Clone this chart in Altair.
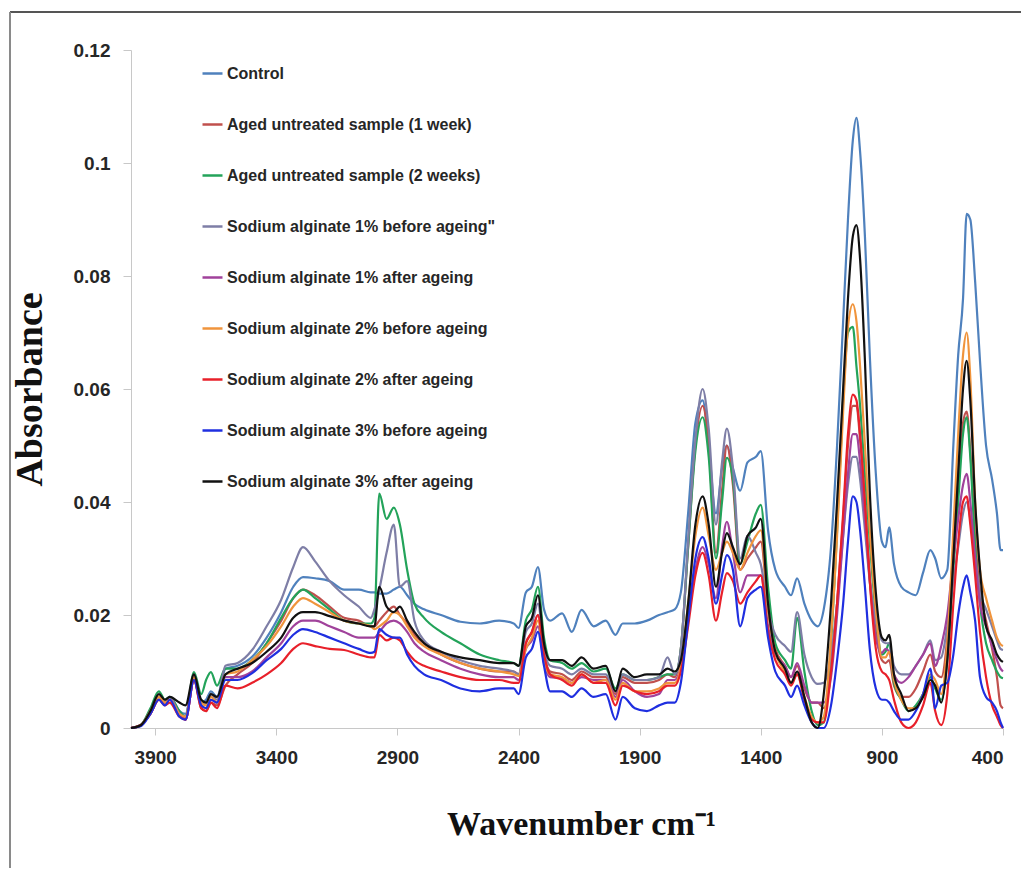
import altair as alt
import pandas as pd

# ---------------- data ----------------
WAVENUMBER = [
    4000, 3960, 3920, 3885, 3860, 3840, 3800, 3775, 3740, 3710, 3690, 3670, 3645, 3610,
    3560, 3500, 3440, 3380, 3330, 3290, 3240, 3180, 3120, 3060, 3010,
    2995, 2975, 2945, 2915, 2890, 2860, 2830, 2790, 2720, 2640, 2560, 2480, 2420, 2400,
    2370, 2345, 2320, 2295, 2270, 2220, 2180, 2140, 2090, 2040, 2000, 1970, 1920, 1870, 1820, 1785, 1755,
    1730, 1700, 1670, 1640, 1615, 1585, 1560, 1540, 1515, 1485, 1455, 1420, 1400, 1370, 1340, 1300, 1275, 1250, 1220, 1190, 1165,
    1140, 1110, 1085, 1060, 1040, 1020, 1005, 990, 970, 950, 925, 900, 885, 870, 850, 820, 790, 760, 730, 700,
    680, 655, 630, 605, 585, 565, 550, 535, 515, 495, 470, 445, 425, 410, 400,
]

control = [
    0, 0.0005, 0.003, 0.0055, 0.0045, 0.0055, 0.003, 0.0025, 0.009, 0.0045, 0.005, 0.0065, 0.0055, 0.0105,
    0.011, 0.0126, 0.016, 0.0205, 0.025, 0.0267, 0.0265, 0.026, 0.0245, 0.0245, 0.024,
    0.024, 0.0238, 0.0238, 0.0245, 0.025, 0.0235, 0.022, 0.021, 0.020, 0.0188, 0.0185, 0.019, 0.0185, 0.0177,
    0.024, 0.025, 0.0285, 0.021, 0.019, 0.0203, 0.017, 0.0209, 0.018, 0.019, 0.0165, 0.0185, 0.0185, 0.019, 0.020, 0.0205, 0.021,
    0.024, 0.038, 0.054, 0.058, 0.050, 0.038, 0.046, 0.050, 0.046, 0.042, 0.047, 0.048, 0.049, 0.035, 0.028, 0.025, 0.0235, 0.0265, 0.022, 0.019, 0.018,
    0.021, 0.032, 0.050, 0.072, 0.090, 0.104, 0.108, 0.102, 0.087, 0.066, 0.045, 0.033, 0.032, 0.0355, 0.029, 0.025, 0.024, 0.0235, 0.0275, 0.0315,
    0.030, 0.0265, 0.028, 0.050, 0.066, 0.076, 0.091, 0.090, 0.079, 0.065, 0.050, 0.044, 0.038, 0.0315, 0.0315,
]

aged_1_week = [
    0, 0.0005, 0.0025, 0.005, 0.0045, 0.005, 0.0025, 0.0015, 0.0085, 0.0035, 0.003, 0.0045, 0.004, 0.0075,
    0.0095, 0.0115, 0.015, 0.019, 0.023, 0.0245, 0.0235, 0.0215, 0.0195, 0.019, 0.018,
    0.018, 0.019, 0.0205, 0.0215, 0.020, 0.0185, 0.0165, 0.015, 0.013, 0.0115, 0.0105, 0.010, 0.010, 0.0095,
    0.015, 0.017, 0.020, 0.013, 0.010, 0.0095, 0.0085, 0.010, 0.009, 0.009, 0.006, 0.009, 0.008, 0.008, 0.0085, 0.0095, 0.009,
    0.014, 0.032, 0.050, 0.057, 0.050, 0.031, 0.042, 0.050, 0.043, 0.028, 0.030, 0.032, 0.033, 0.021, 0.014, 0.011, 0.009, 0.011, 0.007, 0.0045, 0.0045,
    0.0035, 0.010, 0.022, 0.037, 0.050, 0.057, 0.057, 0.051, 0.040, 0.027, 0.017, 0.012, 0.0115, 0.012, 0.0075, 0.0055, 0.0055, 0.007, 0.010, 0.013,
    0.010, 0.009, 0.016, 0.032, 0.045, 0.054, 0.056, 0.049, 0.034, 0.024, 0.019, 0.014, 0.009, 0.004, 0.0035,
]

aged_2_weeks = [
    0, 0.0005, 0.0035, 0.0065, 0.005, 0.0055, 0.003, 0.002, 0.0099, 0.006, 0.0085, 0.0099, 0.0075, 0.0105,
    0.0105, 0.012, 0.015, 0.0195, 0.023, 0.0245, 0.023, 0.021, 0.019, 0.0185, 0.0185,
    0.0195, 0.0415, 0.037, 0.039, 0.036, 0.028, 0.022, 0.0195, 0.017, 0.015, 0.013, 0.012, 0.0115, 0.011,
    0.019, 0.021, 0.025, 0.016, 0.012, 0.0115, 0.0105, 0.0115, 0.010, 0.0105, 0.007, 0.0095, 0.0085, 0.0085, 0.009, 0.0095, 0.0095,
    0.014, 0.032, 0.049, 0.055, 0.048, 0.030, 0.040, 0.0478, 0.044, 0.029, 0.033, 0.038, 0.0395, 0.025, 0.015, 0.012, 0.0105, 0.0195, 0.010, 0.003, 0.0005,
    0.001, 0.015, 0.035, 0.058, 0.070, 0.071, 0.064, 0.057, 0.045, 0.033, 0.020, 0.013, 0.0135, 0.015, 0.008, 0.005, 0.003, 0.004, 0.006, 0.009,
    0.007, 0.005, 0.012, 0.028, 0.040, 0.052, 0.055, 0.048, 0.032, 0.022, 0.015, 0.012, 0.010, 0.009, 0.0088,
]

sa1_before = [
    0, 0.0005, 0.003, 0.0055, 0.0045, 0.0055, 0.0025, 0.002, 0.009, 0.0045, 0.0045, 0.006, 0.005, 0.011,
    0.0115, 0.0138, 0.018, 0.0227, 0.0285, 0.032, 0.0295, 0.026, 0.0235, 0.0215, 0.0195,
    0.021, 0.0245, 0.031, 0.036, 0.025, 0.026, 0.019, 0.0155, 0.0135, 0.012, 0.011, 0.0105, 0.010, 0.0095,
    0.017, 0.0185, 0.022, 0.014, 0.011, 0.0105, 0.0095, 0.0105, 0.0095, 0.0095, 0.0065, 0.0095, 0.0085, 0.0085, 0.009, 0.0125, 0.0095,
    0.014, 0.033, 0.051, 0.060, 0.053, 0.036, 0.047, 0.053, 0.046, 0.030, 0.034, 0.031, 0.029, 0.021, 0.0165, 0.0145, 0.0135, 0.0205, 0.013, 0.009, 0.0078,
    0.008, 0.013, 0.022, 0.034, 0.043, 0.048, 0.048, 0.044, 0.035, 0.026, 0.019, 0.0155, 0.015, 0.015, 0.011, 0.0095, 0.0095, 0.011, 0.013, 0.0155,
    0.012, 0.0125, 0.018, 0.026, 0.032, 0.038, 0.040, 0.037, 0.030, 0.024, 0.021, 0.018, 0.0155, 0.014, 0.0138,
]

sa1_after = [
    0, 0.0005, 0.0025, 0.005, 0.0045, 0.005, 0.0025, 0.0015, 0.0085, 0.004, 0.0035, 0.005, 0.0045, 0.009,
    0.009, 0.010, 0.0125, 0.015, 0.018, 0.019, 0.019, 0.018, 0.017, 0.016, 0.016,
    0.016, 0.017, 0.0185, 0.019, 0.0185, 0.017, 0.015, 0.0135, 0.012, 0.0105, 0.0095, 0.009, 0.009, 0.0085,
    0.014, 0.0155, 0.018, 0.0115, 0.009, 0.0088, 0.008, 0.009, 0.0085, 0.0085, 0.0055, 0.0085, 0.0065, 0.0055, 0.006, 0.0085, 0.0085,
    0.011, 0.020, 0.028, 0.032, 0.029, 0.023, 0.032, 0.0365, 0.031, 0.024, 0.027, 0.027, 0.027, 0.018, 0.013, 0.011, 0.009, 0.0115, 0.0075, 0.0045, 0.0045,
    0.0045, 0.009, 0.020, 0.034, 0.045, 0.052, 0.052, 0.047, 0.037, 0.026, 0.016, 0.0133, 0.014, 0.0135, 0.0095, 0.008, 0.009, 0.011, 0.013, 0.015,
    0.011, 0.0145, 0.020, 0.030, 0.037, 0.043, 0.045, 0.040, 0.030, 0.022, 0.018, 0.0145, 0.012, 0.0105, 0.010,
]

sa2_before = [
    0, 0.0005, 0.003, 0.0055, 0.0045, 0.005, 0.0025, 0.002, 0.009, 0.0045, 0.004, 0.0055, 0.0045, 0.0095,
    0.010, 0.012, 0.0145, 0.018, 0.0215, 0.023, 0.022, 0.0205, 0.019, 0.0185, 0.018,
    0.0175, 0.018, 0.019, 0.0205, 0.020, 0.018, 0.016, 0.0145, 0.013, 0.0115, 0.0105, 0.010, 0.0095, 0.0092,
    0.014, 0.016, 0.019, 0.012, 0.0095, 0.009, 0.008, 0.0095, 0.008, 0.0085, 0.005, 0.008, 0.0065, 0.0065, 0.007, 0.008, 0.008,
    0.011, 0.022, 0.034, 0.039, 0.034, 0.028, 0.031, 0.033, 0.031, 0.028, 0.031, 0.034, 0.035, 0.021, 0.0135, 0.010, 0.008, 0.0095, 0.0055, 0.002, 0.001,
    0.002, 0.016, 0.034, 0.056, 0.071, 0.075, 0.072, 0.064, 0.050, 0.035, 0.021, 0.0125, 0.0125, 0.0135, 0.0085, 0.005, 0.0035, 0.0035, 0.006, 0.0095,
    0.0085, 0.006, 0.015, 0.035, 0.052, 0.066, 0.070, 0.062, 0.040, 0.028, 0.023, 0.019, 0.016, 0.0148, 0.0145,
]

sa2_after = [
    0, 0.0005, 0.0025, 0.005, 0.004, 0.0045, 0.002, 0.0015, 0.0085, 0.0035, 0.003, 0.0045, 0.0035, 0.0075,
    0.007, 0.008, 0.0095, 0.0115, 0.014, 0.015, 0.0145, 0.014, 0.0138, 0.013, 0.0125,
    0.0125, 0.0165, 0.0155, 0.016, 0.0155, 0.0135, 0.012, 0.011, 0.010, 0.009, 0.0085, 0.0085, 0.008, 0.008,
    0.015, 0.017, 0.020, 0.013, 0.0095, 0.0085, 0.0075, 0.0095, 0.008, 0.008, 0.004, 0.0075, 0.0065, 0.006, 0.0065, 0.0075, 0.0075,
    0.010, 0.018, 0.027, 0.031, 0.027, 0.019, 0.024, 0.0274, 0.026, 0.022, 0.024, 0.026, 0.027, 0.017, 0.012, 0.0095, 0.0075, 0.0095, 0.005, 0.0015, 0.001,
    0.001, 0.010, 0.022, 0.038, 0.052, 0.059, 0.058, 0.052, 0.040, 0.026, 0.014, 0.010, 0.0095, 0.0085, 0.005, 0.001, 0.0, 0.001, 0.004, 0.008,
    0.003, 0.0005, 0.006, 0.022, 0.033, 0.040, 0.041, 0.036, 0.027, 0.017, 0.009, 0.004, 0.002, 0.0005, 0.0,
]

sa3_before = [
    0, 0.0003, 0.0025, 0.005, 0.004, 0.005, 0.002, 0.0015, 0.0085, 0.004, 0.0035, 0.005, 0.0045, 0.0085,
    0.0085, 0.0097, 0.012, 0.014, 0.0165, 0.0175, 0.017, 0.016, 0.015, 0.014, 0.0133,
    0.0135, 0.0175, 0.0165, 0.016, 0.016, 0.013, 0.011, 0.0095, 0.0085, 0.007, 0.0065, 0.007, 0.007, 0.006,
    0.0125, 0.014, 0.017, 0.011, 0.0065, 0.0065, 0.0055, 0.007, 0.0055, 0.006, 0.0015, 0.0055, 0.0035, 0.003, 0.004, 0.0045, 0.0045,
    0.008, 0.019, 0.030, 0.0338, 0.030, 0.022, 0.027, 0.0306, 0.028, 0.018, 0.023, 0.0245, 0.025, 0.016, 0.010, 0.0075, 0.0055, 0.0075, 0.004, 0.001, 0.0,
    0.0, 0.004, 0.012, 0.022, 0.033, 0.041, 0.040, 0.035, 0.025, 0.014, 0.007, 0.005, 0.005, 0.0045, 0.003, 0.0015, 0.0015, 0.003, 0.006, 0.0105,
    0.0035, 0.0075, 0.008, 0.013, 0.020, 0.025, 0.027, 0.024, 0.019, 0.009, 0.0055, 0.0045, 0.003, 0.001, 0.0,
]

sa3_after = [
    0, 0.0005, 0.003, 0.006, 0.005, 0.0055, 0.0045, 0.004, 0.0095, 0.005, 0.0045, 0.006, 0.0055, 0.0095,
    0.0105, 0.0115, 0.0135, 0.016, 0.0195, 0.0205, 0.0205, 0.0198, 0.019, 0.0185, 0.018,
    0.018, 0.025, 0.0215, 0.0205, 0.0215, 0.019, 0.017, 0.015, 0.0135, 0.0125, 0.012, 0.0115, 0.0115, 0.011,
    0.018, 0.0195, 0.0235, 0.015, 0.012, 0.012, 0.011, 0.0125, 0.0105, 0.011, 0.0065, 0.0105, 0.009, 0.0095, 0.0095, 0.0105, 0.010,
    0.012, 0.022, 0.036, 0.041, 0.036, 0.025, 0.031, 0.0345, 0.032, 0.029, 0.034, 0.0355, 0.037, 0.022, 0.0135, 0.0105, 0.008, 0.010, 0.0055, 0.001, 0.0,
    0.006, 0.022, 0.040, 0.060, 0.076, 0.087, 0.089, 0.083, 0.065, 0.042, 0.024, 0.016, 0.0155, 0.0165, 0.0095, 0.006, 0.003, 0.0035, 0.0055, 0.0085,
    0.0075, 0.0045, 0.012, 0.030, 0.045, 0.060, 0.065, 0.058, 0.040, 0.028, 0.018, 0.0155, 0.013, 0.012, 0.0117,
]

SERIES_NAMES = [
    "Control",
    "Aged untreated sample (1 week)",
    "Aged untreated sample (2 weeks)",
    "Sodium alginate 1% before ageing\"",
    "Sodium alginate 1% after ageing",
    "Sodium alginate 2% before ageing",
    "Sodium alginate 2% after ageing",
    "Sodium alginate 3% before ageing",
    "Sodium alginate 3% after ageing",
]
SERIES_VALUES = [control, aged_1_week, aged_2_weeks, sa1_before, sa1_after,
                 sa2_before, sa2_after, sa3_before, sa3_after]
SERIES_COLORS = ["#4F81BD", "#C0504D", "#23A35A", "#7E7EA6", "#A0429B",
                 "#F0943C", "#E8202A", "#1F2FE0", "#111111"]

X_TICKS = [3900, 3400, 2900, 2400, 1900, 1400, 900, 400]
Y_TICKS = [0, 0.02, 0.04, 0.06, 0.08, 0.1, 0.12]

rows = []
for k, (name, vals) in enumerate(zip(SERIES_NAMES, SERIES_VALUES)):
    for w, v in zip(WAVENUMBER, vals):
        rows.append({"wavenumber": w, "absorbance": v, "sample": name, "k": k})
df = pd.DataFrame(rows)

SANS = "Liberation Sans, Arial, sans-serif"
SERIF = "Liberation Serif, Times New Roman, serif"

lines = alt.Chart(df).mark_line(strokeWidth=2.2, interpolate="monotone").encode(
    x=alt.X(
        "wavenumber:Q",
        scale=alt.Scale(domain=[400, 4000], reverse=True, nice=False, zero=False),
        axis=alt.Axis(
            values=X_TICKS, format="d", title="Wavenumber cm\u207b\u00b9",
            grid=False, domainColor="#c8c8c8", tickColor="#c8c8c8", tickSize=7,
            labelFont=SANS, labelFontSize=19, labelFontWeight="bold", labelColor="#262626",
            labelPadding=13, titleFont=SERIF, titleFontSize=34, titleFontWeight="bold",
            titleColor="#111111", titlePadding=40, titleX=450,
        ),
    ),
    y=alt.Y(
        "absorbance:Q",
        scale=alt.Scale(domain=[0, 0.12], nice=False),
        axis=alt.Axis(
            values=Y_TICKS, format=".2~f", title="Absorbance",
            grid=False, domainColor="#c8c8c8", tickColor="#c8c8c8", tickSize=8,
            labelFont=SANS, labelFontSize=19, labelFontWeight="bold", labelColor="#262626",
            labelPadding=13, titleFont=SERIF, titleFontSize=38, titleFontWeight="bold",
            titleColor="#111111", titlePadding=24,
        ),
    ),
    color=alt.Color(
        "sample:N",
        sort=SERIES_NAMES,
        scale=alt.Scale(domain=SERIES_NAMES, range=SERIES_COLORS),
        legend=alt.Legend(
            title=None, orient="none", legendX=70, legendY=12, direction="vertical",
            symbolType="stroke", symbolSize=400, symbolStrokeWidth=2.5,
            labelFont=SANS, labelFontSize=16, labelFontWeight="bold", labelColor="#262626",
            labelOffset=3, rowPadding=31, padding=0, labelLimit=400,
        ),
    ),
    detail="k:O",
)

frame_top = alt.Chart(pd.DataFrame({"f": [0]})).mark_rule(color="#555555", strokeWidth=2).encode(
    x=alt.value(-121), x2=alt.value(900), y=alt.value(-38)
)
frame_left = alt.Chart(pd.DataFrame({"f": [0]})).mark_rule(color="#8a8a8a", strokeWidth=2).encode(
    x=alt.value(-121), y=alt.value(-38), y2=alt.value(830)
)

chart = alt.layer(frame_top, frame_left, lines).properties(
    width=872, height=678,
    autosize=alt.AutoSizeParams(type="none"),
    padding={"left": 123, "top": 42, "right": 18, "bottom": 140},
    background="white",
).configure_view(stroke=None)

chart.save("out.html", embed_options={"renderer": "svg", "actions": False})
